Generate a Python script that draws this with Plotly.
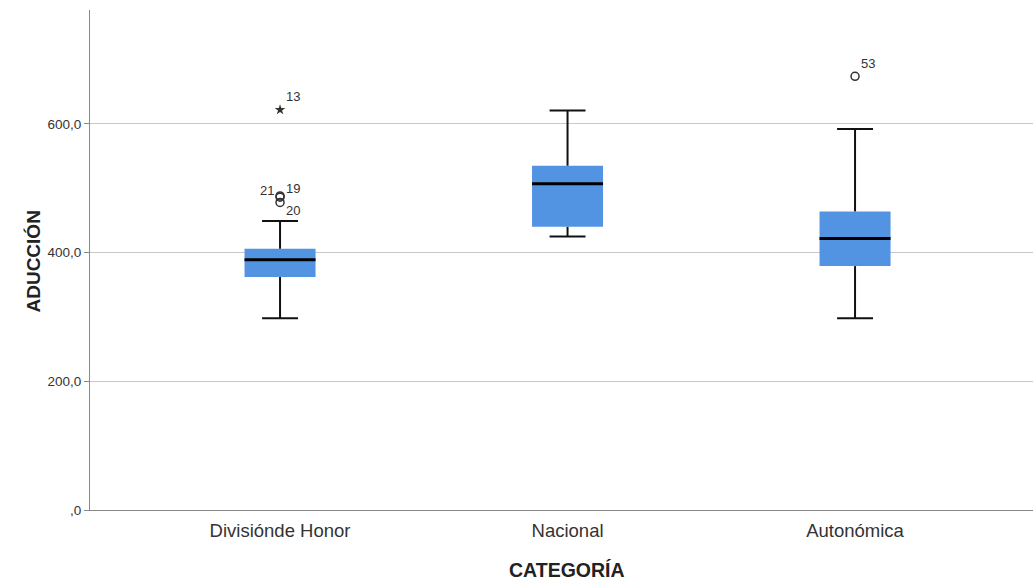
import plotly.graph_objects as go

# ---- data ----
categories = ["Divisiónde Honor", "Nacional", "Autonómica"]
q1 = [362, 440, 379]
median = [389, 507, 422]
q3 = [406, 535, 464]
lower_fence = [298, 425, 298]
upper_fence = [449, 621, 592]

out_cat = [0, 0, 0, 0, 2]
out_val = [622, 488, 486, 478, 674]
out_label = ["13", "19", "21", "20", "53"]
out_kind = ["extreme", "mild", "mild", "mild", "mild"]
out_label_shift = [(13, 13), (13, 7), (-13, 7), (13, -8), (13, 13)]

y_tickvals = [0, 200, 400, 600]
y_ticktext = [",0", "200,0", "400,0", "600,0"]

# ---- style ----
BLUE = "#5294E2"
FONT = "Liberation Sans, Arial, sans-serif"
BOX_W = 0.247
CAP_W = 0.125

xs = list(range(len(categories)))

fig = go.Figure()

fig.add_trace(go.Box(
    x=xs, q1=q1, median=median, q3=q3,
    lowerfence=lower_fence, upperfence=upper_fence,
    width=BOX_W, fillcolor=BLUE, line=dict(width=0, color=BLUE),
    boxpoints=False, showlegend=False, hoverinfo="skip",
))

# whiskers
wx, wy = [], []
for i in xs:
    wx += [i, i, None, i, i, None]
    wy += [q3[i], upper_fence[i], None, q1[i], lower_fence[i], None]
fig.add_trace(go.Scatter(x=wx, y=wy, mode="lines",
                         line=dict(color="#111111", width=2),
                         showlegend=False, hoverinfo="skip"))

# caps
cx, cy = [], []
for i in xs:
    cx += [i - CAP_W / 2, i + CAP_W / 2, None, i - CAP_W / 2, i + CAP_W / 2, None]
    cy += [upper_fence[i], upper_fence[i], None, lower_fence[i], lower_fence[i], None]
fig.add_trace(go.Scatter(x=cx, y=cy, mode="lines",
                         line=dict(color="#111111", width=2),
                         showlegend=False, hoverinfo="skip"))

# medians
mx, my = [], []
for i in xs:
    mx += [i - BOX_W / 2, i + BOX_W / 2, None]
    my += [median[i], median[i], None]
fig.add_trace(go.Scatter(x=mx, y=my, mode="lines",
                         line=dict(color="#000000", width=3),
                         showlegend=False, hoverinfo="skip"))

# outliers
for kind, sym, size, lw in [("mild", "circle-open", 8, 1.5), ("extreme", "star", 8, 0)]:
    idx = [k for k, t in enumerate(out_kind) if t == kind]
    fig.add_trace(go.Scatter(
        x=[out_cat[k] for k in idx], y=[out_val[k] for k in idx],
        mode="markers",
        marker=dict(symbol=sym, size=size, color="#333333",
                    line=dict(width=lw, color="#333333")),
        showlegend=False, hoverinfo="skip"))

for k in range(len(out_val)):
    dx, dy = out_label_shift[k]
    fig.add_annotation(x=out_cat[k], y=out_val[k], text=out_label[k],
                       showarrow=False, xshift=dx, yshift=dy,
                       font=dict(family=FONT, size=13, color="#333333"))

# axis titles
fig.add_annotation(xref="paper", yref="paper", x=-0.0742, y=0.496,
                   text="<b>ADUCCIÓN</b>", textangle=-90, showarrow=False,
                   font=dict(family=FONT, size=19, color="#222222"))
fig.add_annotation(xref="paper", yref="paper", x=0.5058, y=-0.12,
                   text="<b>CATEGORÍA</b>", showarrow=False,
                   xanchor="center", yanchor="middle",
                   font=dict(family=FONT, size=19.5, color="#222222"))

fig.update_layout(
    width=1033, height=580,
    margin=dict(l=90, r=0, t=10, b=70),
    plot_bgcolor="white", paper_bgcolor="white",
    font=dict(family=FONT, color="#333333"),
    boxmode="overlay",
    xaxis=dict(range=[-0.661, 2.619], tickvals=xs, ticktext=categories,
               showgrid=False, zeroline=False, showline=True,
               linecolor="#888888", linewidth=1, ticks="",
               ticklabelstandoff=4,
               tickfont=dict(family=FONT, size=18.5, color="#333333")),
    yaxis=dict(range=[0, 777], tickvals=y_tickvals, ticktext=y_ticktext,
               showgrid=True, gridcolor="#c8c8c8", gridwidth=1,
               zeroline=False, showline=True, linecolor="#888888",
               linewidth=1, ticks="outside", ticklen=5, tickcolor="#888888",
               tickfont=dict(family=FONT, size=13.5, color="#333333")),
)

fig.write_html("out.html")
